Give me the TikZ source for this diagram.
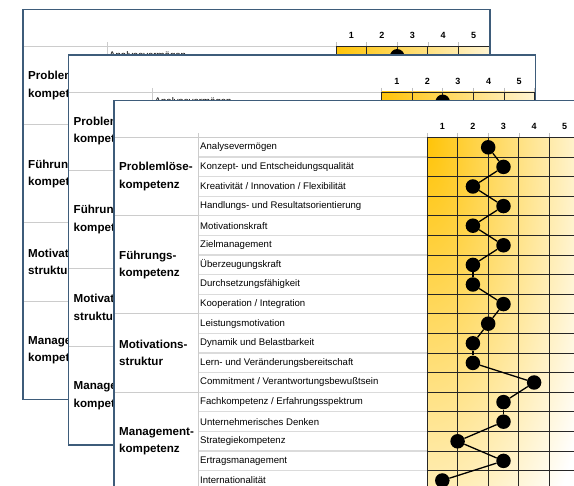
\documentclass[tikz,border=0pt]{standalone}
\usepackage{fontspec}
\setmainfont{Liberation Sans}
\definecolor{sheetblue}{RGB}{62,92,122}
\definecolor{gridgold}{RGB}{255,196,8}
\begin{document}
\begin{tikzpicture}[x=1pt,y=-1pt,
	sheet/.style={draw=sheetblue,line width=1.1pt},
	rowline/.style={gray!28,line width=1.2pt},
	secline/.style={gray!40,line width=0.8pt},
	gridline/.style={black!85,line width=0.8pt},
	tickline/.style={gray!50,line width=0.5pt},
	item/.style={anchor=west,inner sep=0pt,font=\fontsize{9.6}{11}\selectfont},
	category/.style={anchor=west,align=left,inner sep=0pt,font=\bfseries\fontsize{11.6}{17.5}\selectfont},
	digit/.style={inner sep=0pt,font=\bfseries\fontsize{9}{10}\selectfont},
	dot/.style={circle,fill=black,inner sep=0pt,minimum size=14.5pt},
	link/.style={line width=1.3pt}]
	\useasboundingbox (0,0) rectangle (574,486);
	\clip (0,0) rectangle (574,486);
	\foreach \s/\ox/\oy [count=\n] in {a/23/9.5,b/68.5/55,c/114/100.5}{
		\begin{scope}[shift={(\ox,\oy)}]
			\fill[white] (0,0) rectangle (467,390);
			\begin{scope}
				\clip (313,37) rectangle (466,390);
				\shade[inner color=gridgold,outer color=white] (126,-470) rectangle (500,544);
			\end{scope}
			\foreach \k in {1,...,17} \draw[rowline] (84,{37+\k*19.6}) -- (313,{37+\k*19.6});
			\foreach \k in {4,9,13} \draw[secline] (0,{37+\k*19.6}) -- (84,{37+\k*19.6});
			\draw[secline] (0,37) -- (313,37) (84,33) -- (84,390);
			\foreach \k in {0,...,18} \draw[gridline] (313,{37+\k*19.6}) -- (466,{37+\k*19.6});
			\foreach \k in {0,...,5}{
				\draw[gridline] ({313+\k*30.6},37) -- ({313+\k*30.6},390);
				\draw[tickline] ({313+\k*30.6},33) -- ({313+\k*30.6},37);
			}
			\foreach \k in {1,...,5} \node[digit] (\s-n\k) at ({313+(\k-0.5)*30.6},26) {\k};
			\ifnum\n<3
				% only the edge of the sheets behind shows
				\node[item] (\s-t1) at (86,{37+0.5*19.6}) {Analysevermögen};
				\node[dot] (\s-d1) at ({313+2*30.6},{37+0.5*19.6}) {};
				\begin{scope}
					\clip (0,0) rectangle (45.5,390);
					\node[category] (\s-c1) at (5,{37+2*19.6}) {Problem\\kompet};
					\node[category] (\s-c2) at (5,{37+6.5*19.6}) {Führun\\kompet};
					\node[category] (\s-c3) at (5,{37+11*19.6}) {Motivat\\struktur};
					\node[category] (\s-c4) at (5,{37+15.5*19.6}) {Manage\\kompet};
				\end{scope}
			\else
				\node[category] (\s-c1) at (5,{37+2*19.6}) {Problemlöse-\\kompetenz};
				\node[category] (\s-c2) at (5,{37+6.5*19.6}) {Führungs-\\kompetenz};
				\node[category] (\s-c3) at (5,{37+11*19.6}) {Motivations-\\struktur};
				\node[category] (\s-c4) at (5,{37+15.5*19.6}) {Management-\\kompetenz};
				\foreach \txt/\v [count=\i] in {Analysevermögen/2.5,Konzept- und Entscheidungsqualität/3,
					{Kreativität / Innovation / Flexibilität}/2,Handlungs- und Resultatsorientierung/3,
					Motivationskraft/2,Zielmanagement/3,Überzeugungskraft/2,Durchsetzungsfähigkeit/2,
					{Kooperation / Integration}/3,Leistungsmotivation/2.5,Dynamik und Belastbarkeit/2,
					Lern- und Veränderungsbereitschaft/2,{Commitment / Verantwortungsbewußtsein}/4,
					{Fachkompetenz / Erfahrungsspektrum}/3,Unternehmerisches Denken/3,
					Strategiekompetenz/1.5,Ertragsmanagement/3,Internationalität/1}{
					\node[item] (\s-t\i) at (86,{37+(\i-0.5)*19.6}) {\txt};
					\node[dot] (\s-d\i) at ({313+(\v-0.5)*30.6},{37+(\i-0.5)*19.6}) {};
				}
				\foreach \i [remember=\i as \j (initially 1)] in {2,...,18} \draw[link] (\s-d\j) -- (\s-d\i);
			\fi
			\draw[sheet] (0,0) rectangle (467,390);
		\end{scope}
	}
\end{tikzpicture}
\end{document}
